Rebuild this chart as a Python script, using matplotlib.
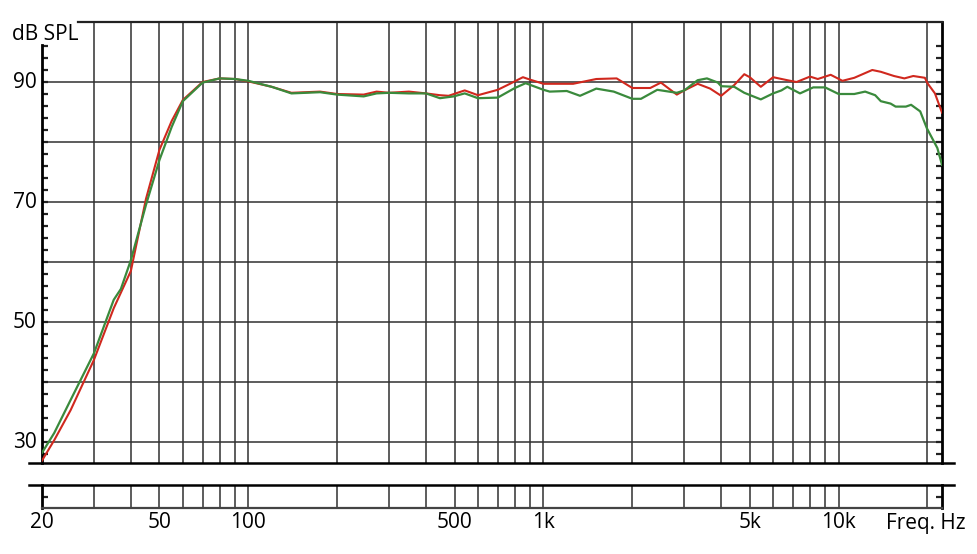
import numpy as np
import matplotlib.pyplot as plt
from matplotlib.lines import Line2D

plt.rcParams['font.family'] = ['Open Sans', 'DejaVu Sans']

# frequency response
freq_red = [20, 22, 25, 30, 35, 40, 45, 50, 55, 60, 70, 80, 90, 100, 120, 140,
            175, 200, 246, 272, 300, 350, 400, 446, 477, 541, 600, 700, 770,
            852, 900, 1000, 1260, 1510, 1770, 2000, 2300, 2500, 2830, 3000,
            3330, 3670, 4000, 4430, 4790, 5000, 5450, 6000, 6700, 7200, 8000,
            8500, 9400, 10300, 11300, 13000, 13900, 15400, 16700, 17900,
            19600, 20000, 21200, 22400]
db_red = [26.9, 30.3, 35.3, 43.7, 52.3, 58.5, 70.5, 78.7, 83.5, 87.0, 90.0,
          90.6, 90.5, 90.1, 89.2, 88.2, 88.4, 88.0, 87.9, 88.4, 88.2, 88.4,
          88.1, 87.8, 87.7, 88.6, 87.8, 88.7, 89.7, 90.8, 90.4, 89.7, 89.7,
          90.5, 90.6, 89.0, 89.0, 89.9, 87.9, 88.6, 89.7, 88.9, 87.7, 89.5,
          91.3, 90.8, 89.2, 90.8, 90.3, 90.0, 90.9, 90.5, 91.2, 90.2, 90.7,
          92.0, 91.7, 91.0, 90.6, 91.0, 90.7, 89.8, 88.1, 84.9]

freq_green = [20, 22, 25, 30, 35, 37, 40, 45, 50, 55, 60, 70, 80, 90, 100,
              120, 140, 175, 200, 246, 272, 300, 350, 400, 446, 496, 541, 600,
              700, 800, 870, 1000, 1050, 1200, 1330, 1510, 1730, 2000, 2140,
              2430, 2830, 3000, 3330, 3580, 3900, 4000, 4430, 4790, 5450, 6000,
              6400, 6700, 7400, 8200, 9000, 10000, 11300, 12300, 13300, 13900,
              15000, 15600, 16900, 17600, 18900, 19900, 21600, 22400]
db_green = [28.2, 31.5, 37.0, 44.8, 53.7, 55.5, 60.3, 69.5, 77.0, 82.5, 86.8,
            89.9, 90.6, 90.5, 90.2, 89.2, 88.1, 88.3, 87.9, 87.6, 88.1, 88.2,
            88.1, 88.1, 87.3, 87.6, 88.1, 87.3, 87.4, 89.0, 89.8, 88.7, 88.4,
            88.5, 87.7, 88.9, 88.4, 87.2, 87.2, 88.7, 88.2, 88.6, 90.3, 90.6,
            89.9, 89.3, 89.2, 88.2, 87.1, 88.1, 88.6, 89.2, 88.1, 89.1, 89.1,
            88.0, 88.0, 88.4, 87.8, 86.8, 86.4, 85.9, 85.9, 86.2, 85.1, 82.3,
            79.0, 76.2]

grid_freqs = [30, 40, 50, 60, 70, 80, 90, 100, 200, 300, 400, 500, 600, 700,
              800, 900, 1000, 2000, 3000, 4000, 5000, 6000, 7000, 8000, 9000,
              10000, 20000]
xtick_vals = [20, 50, 100, 500, 1000, 5000, 10000]
xtick_text = ['20', '50', '100', '500', '1k', '5k', '10k']
ytick_vals = [30, 50, 70, 90]

W, H = 977, 554
fig = plt.figure(figsize=(W / 100, H / 100), dpi=100)

def box(l, t, r, b):
    return [l / W, 1 - b / H, (r - l) / W, (b - t) / H]

ax = fig.add_axes(box(42, 22, 942, 463))
strip = fig.add_axes(box(42, 485, 942, 508))

xmin, xmax = 20, 22400
ymin, ymax = 26.5, 100

grid_col = '#303030'
for a in (ax, strip):
    a.set_xscale('log')
    a.set_xlim(xmin, xmax)
    for f in grid_freqs:
        a.axvline(f, color=grid_col, lw=1.1, zorder=1)
    a.xaxis.set_major_locator(plt.NullLocator())
    a.xaxis.set_minor_locator(plt.NullLocator())

for v in [30, 40, 50, 60, 70, 80, 90]:
    ax.axhline(v, color=grid_col, lw=1.1, zorder=1)

ax.plot(freq_red, db_red, color='#d0281e', lw=1.5, zorder=3)
ax.plot(freq_green, db_green, color='#3a8a3c', lw=1.6, zorder=4)

ax.set_ylim(ymin, ymax)
ax.set_yticks(np.arange(28, 97, 2))
ax.set_yticklabels([])
ax.tick_params(axis='y', which='major', direction='in', length=4, width=1.6,
               left=True, right=True, color='#222222')

for s in ('left', 'right'):
    ax.spines[s].set_linewidth(2.0)
ax.spines['left'].set_bounds(ymin, 96.2)
ax.spines['top'].set_bounds(26.5, xmax)
ax.spines['top'].set_linewidth(1.6)
ax.spines['top'].set_color('#222222')
ax.spines['bottom'].set_visible(False)

strip.set_ylim(0, 1)
strip.set_yticks([0.5])
strip.set_yticklabels([])
strip.tick_params(axis='y', direction='in', length=4, width=1.6,
                  left=True, right=True, color='#222222')
strip.spines['top'].set_visible(False)
strip.spines['bottom'].set_linewidth(1.6)
strip.spines['bottom'].set_color('#444444')
for s in ('left', 'right'):
    strip.spines[s].set_linewidth(2.0)

# long separators of the strip
for yy in (463, 485):
    fig.add_artist(Line2D([29 / W, 954 / W], [1 - yy / H, 1 - yy / H],
                          color='black', lw=1.8))

for v in ytick_vals:
    ax.text(-0.006, v, str(v), transform=ax.get_yaxis_transform(),
            ha='right', va='center', fontsize=15)

for f, t in zip(xtick_vals, xtick_text):
    strip.text(f, -0.65, t, transform=strip.get_xaxis_transform(),
               ha='center', va='center', fontsize=15)

fig.text(12 / W, 1 - 34 / H, 'dB SPL', ha='left', va='center', fontsize=15)
fig.text(926 / W, 1 - 523 / H, 'Freq. Hz', ha='center', va='center',
         fontsize=15)

fig.savefig('out.png', dpi=100)
